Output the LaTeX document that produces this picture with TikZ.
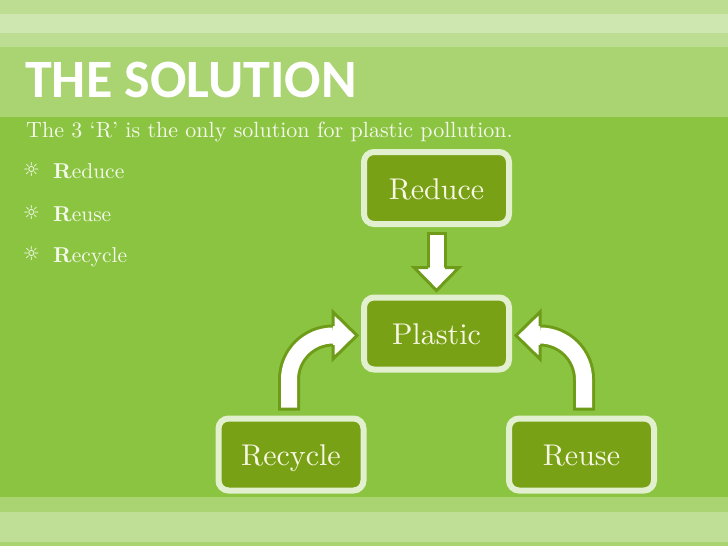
\documentclass[tikz,border=0pt]{standalone}
\usepackage{fontspec}
\setmainfont{lmroman10-regular.otf}[BoldFont=lmroman10-bold.otf]
\newfontfamily\titlefont{Carlito}
\newfontfamily\symfont{DejaVu Sans}
\usetikzlibrary{calc}
\definecolor{bgmain}{HTML}{8BC441}
\definecolor{bandA}{HTML}{BDDD92}
\definecolor{bandB}{HTML}{CEE7B0}
\definecolor{bandT}{HTML}{A9D471}
\definecolor{bandL}{HTML}{BEDF95}
\definecolor{boxfill}{HTML}{78A116}
\definecolor{boxborder}{HTML}{E2F0D0}
\definecolor{arrowdark}{HTML}{6E9B18}
\definecolor{bodytext}{HTML}{F4F9EC}
\definecolor{boxtext}{HTML}{F8F7E4}
\begin{document}
\begin{tikzpicture}[x=1pt,y=-1pt,
  box/.style={draw=boxborder, line width=6pt, fill=boxfill, rounded corners=10pt,
    minimum width=145pt, minimum height=72pt, inner sep=0pt, text=boxtext,
    text height=27pt, text depth=5pt, font=\fontsize{30}{35}\selectfont},
  bodyline/.style={anchor=base west, inner sep=0pt, text=bodytext, font=\fontsize{21.5}{26}\selectfont},
  bulletmark/.style={inner sep=0pt, text=bodytext, font=\symfont\fontsize{19}{21}\selectfont},
  shaftout/.style={line width=#1, arrowdark},
  shaftin/.style={line width=#1, white, shorten <=3pt},
  headedge/.style={draw=arrowdark, line width=3pt, line join=miter}
]
\useasboundingbox (0,0) rectangle (728,546);
% background bands
\fill[bgmain] (0,0) rectangle (728,546);
\fill[bandA] (0,0) rectangle (728,14);
\fill[bandB] (0,14) rectangle (728,33);
\fill[bandA] (0,33) rectangle (728,47);
\fill[bandT] (0,47) rectangle (728,117);
\fill[bandT] (0,497) rectangle (728,512);
\fill[bandL] (0,512) rectangle (728,542);
\fill[bandT] (0,542) rectangle (728,546);
% title and text
\node[anchor=base west, inner sep=0pt, text=white, font=\titlefont\bfseries\fontsize{54}{60}\selectfont] (title) at (25,97) {THE SOLUTION};
\node[bodyline, font=\fontsize{22}{26}\selectfont] (sub) at (26,137) {The 3 ‘R’ is the only solution for plastic pollution.};
\node[bulletmark] (b1) at (31.5,170) {☼};
\node[bulletmark] (b2) at (31.5,213) {☼};
\node[bulletmark] (b3) at (31.5,254) {☼};
\node[bodyline] (i1) at (53,178) {\textbf{R}educe};
\node[bodyline] (i2) at (53,221) {\textbf{R}euse};
\node[bodyline] (i3) at (53,262) {\textbf{R}ecycle};
% boxes
\node[box] (reduce) at (436.5,188) {Reduce};
\node[box] (plastic) at (436.5,333.5) {Plastic};
\node[box] (recycle) at (291,454.5) {Recycle};
\node[box] (reuse) at (581.5,454.5) {Reuse};
% down arrow
\coordinate (Ds) at ($(reduce.south)+(0,5)$);
\coordinate (Dt) at ($(plastic.north)+(0,-4)$);
\coordinate (Db) at ($(Dt)+(0,-23)$);
\draw[shaftout=20pt] (Ds) -- (Db);
\draw[shaftin=14pt] (Ds) -- (Db);
\fill[white] ($(Db)+(-22.5,0)$) -- (Dt) -- ($(Db)+(22.5,0)$) -- cycle;
\draw[headedge] ($(Db)+(-8.5,0)$) -- ($(Db)+(-22.5,0)$) -- (Dt) -- ($(Db)+(22.5,0)$) -- ($(Db)+(8.5,0)$);
% left curved arrow
\coordinate (Ls) at ($(recycle.north)+(-2,-5)$);
\coordinate (Lt) at ($(plastic.west)+(-4,2)$);
\coordinate (Lb) at ($(Lt)+(-24,0)$);
\draw[shaftout=22pt, rounded corners=44pt] (Ls) |- (Lb);
\draw[shaftin=16pt, rounded corners=44pt] (Ls) |- (Lb);
\fill[white] ($(Lb)+(0,-23.5)$) -- (Lt) -- ($(Lb)+(0,23.5)$) -- cycle;
\draw[headedge] ($(Lb)+(0,-9.5)$) -- ($(Lb)+(0,-23.5)$) -- (Lt) -- ($(Lb)+(0,23.5)$) -- ($(Lb)+(0,9.5)$);
% right curved arrow
\coordinate (Rs) at ($(reuse.north)+(2.5,-5)$);
\coordinate (Rt) at ($(plastic.east)+(4,2)$);
\coordinate (Rb) at ($(Rt)+(24,0)$);
\draw[shaftout=22pt, rounded corners=44pt] (Rs) |- (Rb);
\draw[shaftin=16pt, rounded corners=44pt] (Rs) |- (Rb);
\fill[white] ($(Rb)+(0,-23.5)$) -- (Rt) -- ($(Rb)+(0,23.5)$) -- cycle;
\draw[headedge] ($(Rb)+(0,-9.5)$) -- ($(Rb)+(0,-23.5)$) -- (Rt) -- ($(Rb)+(0,23.5)$) -- ($(Rb)+(0,9.5)$);
\end{tikzpicture}
\end{document}
